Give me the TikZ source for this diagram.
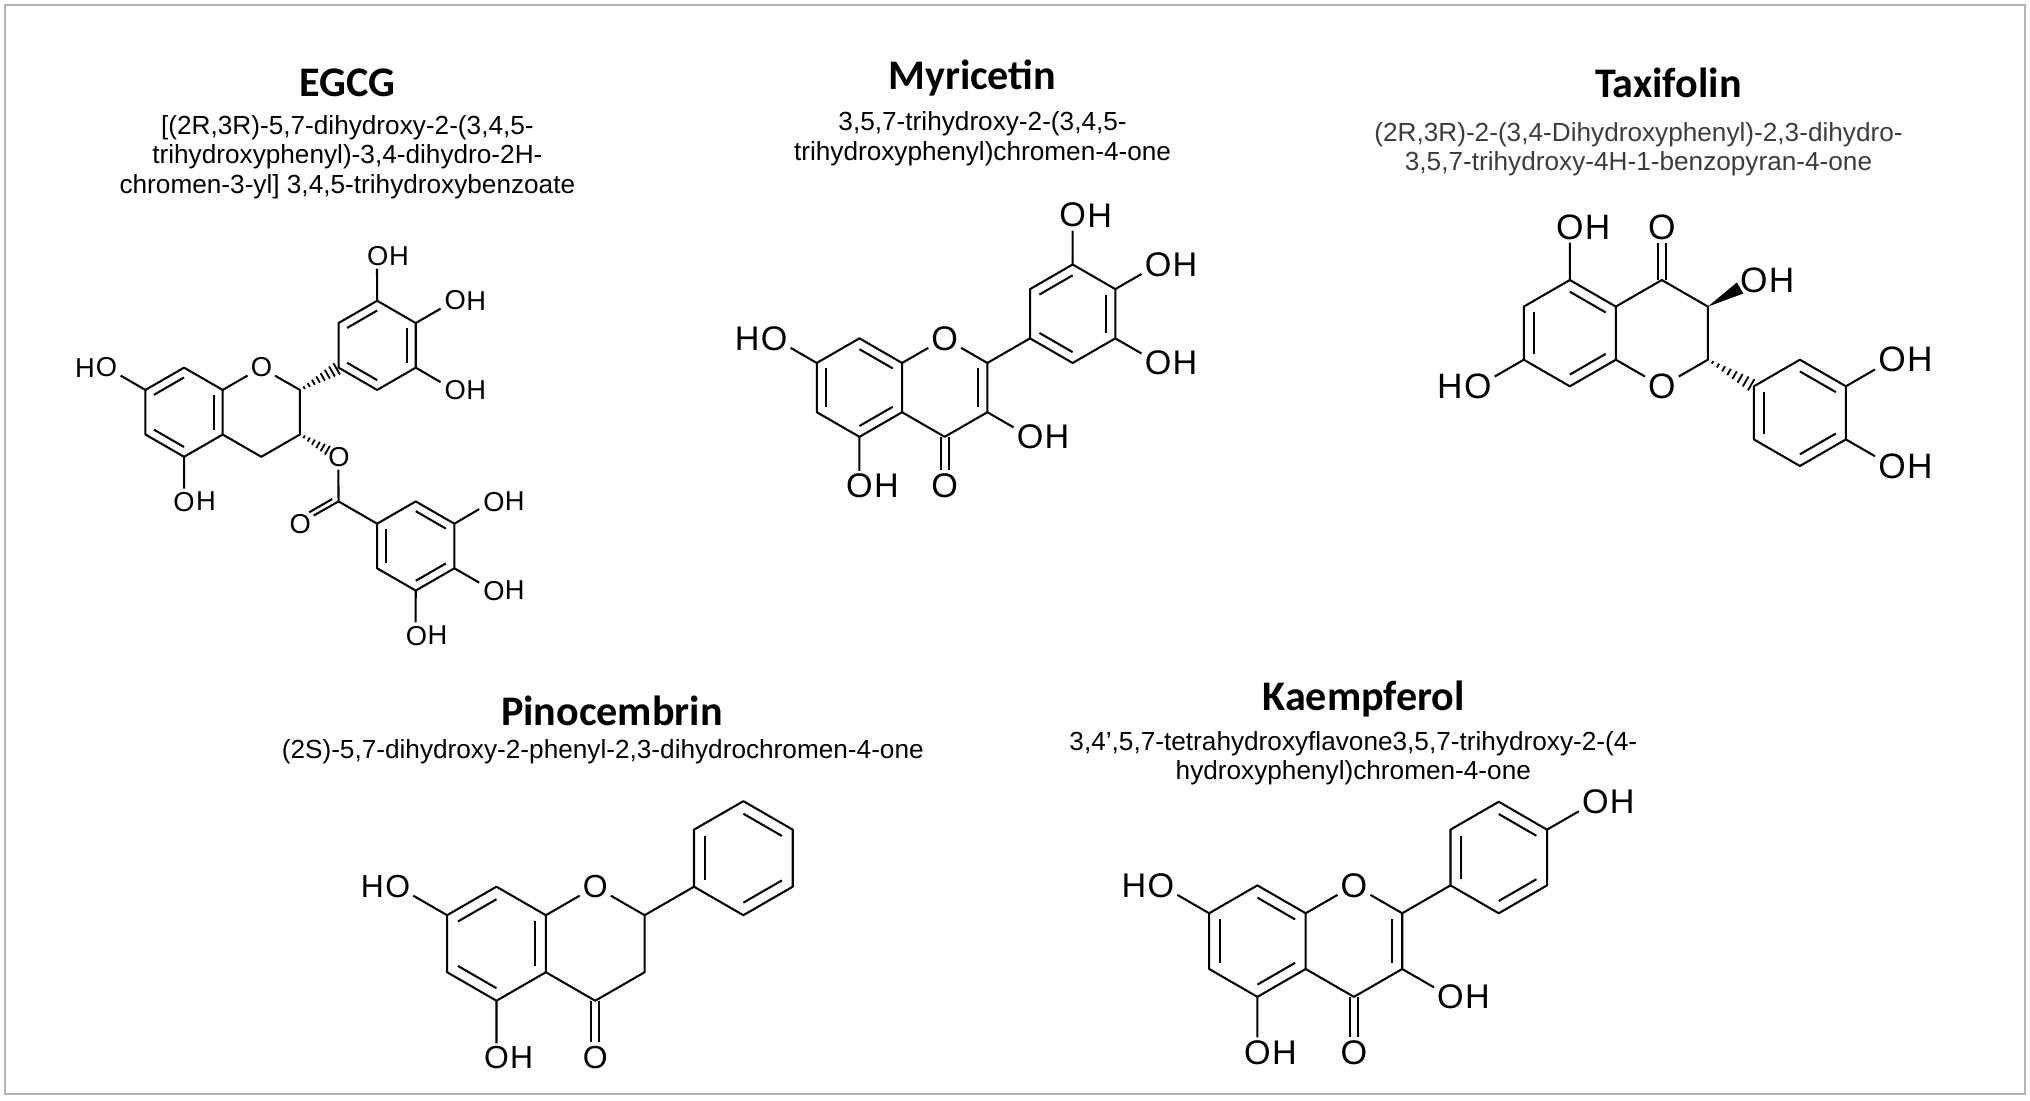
\documentclass[tikz,border=0pt]{standalone}
\usepackage{fontspec}
\setmainfont{Liberation Sans}
\newfontfamily\titlefont{Carlito}
\usetikzlibrary{calc}
\definecolor{nameGray}{RGB}{60,60,60}

\tikzset{
  bond/.style={line width=0.9pt, line join=round},
  atom/.style={inner sep=1.2pt},
  hyd/.style={atom, inner sep=0pt, label distance=-1pt},
  title/.style={font=\titlefont\bfseries\fontsize{18.5}{20}\selectfont},
  iupac/.style={align=center, font=\fontsize{11.5}{13}\selectfont},
}
% ring with named corners: name-30, name-90, ... name-330
\newcommand{\hexring}[2]{%
  \path (#2) coordinate (#1) +(30:1) coordinate (#1-30) +(90:1) coordinate (#1-90)
    +(150:1) coordinate (#1-150) +(210:1) coordinate (#1-210)
    +(270:1) coordinate (#1-270) +(330:1) coordinate (#1-330);
  \draw[bond] (#1-30) -- (#1-90) -- (#1-150) -- (#1-210) -- (#1-270) -- (#1-330) -- cycle;}
\newcommand{\dbl}[3]{\draw[bond] ($(#1)!0.78!(#2)$) -- ($(#1)!0.78!(#3)$);}
\newcommand{\kek}[7]{\dbl{#1}{#1-#2}{#1-#3}\dbl{#1}{#1-#4}{#1-#5}\dbl{#1}{#1-#6}{#1-#7}}
\newcommand{\hashed}[3]{%
  \foreach \t in {0.1,0.22,...,#3}{\pgfmathsetmacro\w{0.4+2.6*\t}
    \draw[reset cm, line width=0.8pt] ($(#1)!\t!(#2)!\w pt!90:(#2)$) -- ($(#1)!\t!(#2)!\w pt!-90:(#2)$);}}
\newcommand{\keto}[3]{% C, O, gap
  \draw[reset cm, bond, shorten >=#3] ($(#1)!1.8pt!90:(#2)$) -- ($(#2)!1.8pt!-90:(#1)$);
  \draw[reset cm, bond, shorten >=#3] ($(#1)!1.8pt!-90:(#2)$) -- ($(#2)!1.8pt!90:(#1)$);}

\begin{document}
\begin{tikzpicture}[x=0.02cm, y=0.02cm]
  \useasboundingbox (0,0) rectangle (1566,-849);
  \draw[gray!60, line width=1pt] (4,-4) rectangle (1562,-844);

  % names
  \node[title] (egcg) at (268,-64) {EGCG};
  \node[iupac] (egcg-name) at (268,-121) {[(2R,3R)-5,7-dihydroxy-2-(3,4,5-\\trihydroxyphenyl)-3,4-dihydro-2H-\\chromen-3-yl] 3,4,5-trihydroxybenzoate};
  \node[title] (myr) at (750,-60) {Myricetin};
  \node[iupac] (myr-name) at (758,-107) {3,5,7-trihydroxy-2-(3,4,5-\\trihydroxyphenyl)chromen-4-one};
  \node[title] (tax) at (1287,-64) {Taxifolin};
  \node[iupac, text=nameGray] (tax-name) at (1264,-115) {(2R,3R)-2-(3,4-Dihydroxyphenyl)-2,3-dihydro-\\3,5,7-trihydroxy-4H-1-benzopyran-4-one};
  \node[title] (pino) at (472,-548) {Pinocembrin};
  \node[iupac] (pino-name) at (465,-580) {(2S)-5,7-dihydroxy-2-phenyl-2,3-dihydrochromen-4-one};
  \node[title] (kae) at (1052,-539) {Kaempferol};
  \node[iupac] (kae-name) at (1044,-585) {3,4',5,7-tetrahydroxyflavone3,5,7-trihydroxy-2-(4-\\hydroxyphenyl)chromen-4-one};

  % EGCG
  \begin{scope}[shift={(142,-318)}, scale=34.5, atom/.append style={font=\fontsize{12}{13}\selectfont}]
    \hexring{e-A}{0,0}
    \kek{e-A}{90}{150}{210}{270}{330}{30}
    \node[atom] (e-O1) at (1.732,1) {O};
    \path (2.598,0.5) coordinate (e-C2) (2.598,-0.5) coordinate (e-C3) (1.732,-1) coordinate (e-C4);
    \draw[bond] (e-A-30) -- (e-O1) -- (e-C2) -- (e-C3) -- (e-C4) -- (e-A-330);
    \node[atom, label={[hyd]west:H}] (e-O7) at (-1.732,1) {O};
    \node[atom, label={[hyd]east:H}] (e-O5) at (0,-2) {O};
    \draw[bond] (e-A-150) -- (e-O7) (e-A-270) -- (e-O5);
    \hexring{e-B}{4.33,1.5}
    \kek{e-B}{150}{90}{30}{330}{270}{210}
    \hashed{e-C2}{e-B-210}{0.94}
    \node[atom, label={[hyd]east:H}] (e-O3p) at (4.33,3.5) {O};
    \node[atom, label={[hyd]east:H}] (e-O4p) at (6.062,2.5) {O};
    \node[atom, label={[hyd]east:H}] (e-O5p) at (6.062,0.5) {O};
    \draw[bond] (e-B-90) -- (e-O3p) (e-B-30) -- (e-O4p) (e-B-330) -- (e-O5p);
    \node[atom] (e-O3) at (3.464,-1) {O};
    \hashed{e-C3}{e-O3}{0.7}
    \coordinate (e-Cc) at (3.464,-2);
    \node[atom] (e-Oc) at (2.598,-2.5) {O};
    \hexring{e-D}{5.196,-3}
    \kek{e-D}{90}{30}{330}{270}{210}{150}
    \draw[bond] (e-O3) -- (e-Cc) -- (e-D-150) (e-Cc) -- (e-Oc);
    \draw[reset cm, bond, shorten >=6pt, shorten <=2pt] ($(e-Cc)!2.5pt!-90:(e-Oc)$) -- ($(e-Oc)!2.5pt!90:(e-Cc)$);
    \node[atom, label={[hyd]east:H}] (e-O3g) at (6.928,-2) {O};
    \node[atom, label={[hyd]east:H}] (e-O4g) at (6.928,-4) {O};
    \node[atom, label={[hyd]east:H}] (e-O5g) at (5.196,-5) {O};
    \draw[bond] (e-D-30) -- (e-O3g) (e-D-330) -- (e-O4g) (e-D-270) -- (e-O5g);
  \end{scope}

  % Myricetin
  \begin{scope}[shift={(663,-299)}, scale=38, atom/.append style={font=\fontsize{15}{16}\selectfont}]
    \hexring{m-A}{0,0}
    \kek{m-A}{150}{210}{270}{330}{30}{90}
    \node[atom] (m-O1) at (1.732,1) {O};
    \path (1.732,0) coordinate (m-C) (2.598,0.5) coordinate (m-C2) (2.598,-0.5) coordinate (m-C3) (1.732,-1) coordinate (m-C4);
    \draw[bond] (m-A-30) -- (m-O1) -- (m-C2) -- (m-C3) -- (m-C4) -- (m-A-330);
    \dbl{m-C}{m-C2}{m-C3}
    \node[atom] (m-O4) at (1.732,-2) {O};
    \keto{m-C4}{m-O4}{7pt}
    \node[atom, label={[hyd]east:H}] (m-O3) at (3.464,-1) {O};
    \node[atom, label={[hyd]west:H}] (m-O7) at (-1.732,1) {O};
    \node[atom, label={[hyd]east:H}] (m-O5) at (0,-2) {O};
    \draw[bond] (m-C3) -- (m-O3) (m-A-150) -- (m-O7) (m-A-270) -- (m-O5);
    \hexring{m-B}{4.33,1.5}
    \kek{m-B}{150}{90}{30}{330}{270}{210}
    \draw[bond] (m-C2) -- (m-B-210);
    \node[atom, label={[hyd]east:H}] (m-O3p) at (4.33,3.5) {O};
    \node[atom, label={[hyd]east:H}] (m-O4p) at (6.062,2.5) {O};
    \node[atom, label={[hyd]east:H}] (m-O5p) at (6.062,0.5) {O};
    \draw[bond] (m-B-90) -- (m-O3p) (m-B-30) -- (m-O4p) (m-B-330) -- (m-O5p);
  \end{scope}

  % Taxifolin
  \begin{scope}[shift={(1211,-257)}, scale=41, atom/.append style={font=\fontsize{15.5}{16}\selectfont}]
    \hexring{t-A}{0,0}
    \kek{t-A}{90}{30}{150}{210}{270}{330}
    \path (1.732,1) coordinate (t-C4) (2.598,0.5) coordinate (t-C3) (2.598,-0.5) coordinate (t-C2);
    \node[atom] (t-O1) at (1.732,-1) {O};
    \draw[bond] (t-A-30) -- (t-C4) -- (t-C3) -- (t-C2) -- (t-O1) -- (t-A-330);
    \node[atom] (t-O4) at (1.732,2) {O};
    \keto{t-C4}{t-O4}{7pt}
    \node[atom, label={[hyd]east:H}] (t-O3) at (3.464,1) {O};
    \coordinate (t-w) at ($(t-C3)!0.7!(t-O3)$);
    \fill[reset cm] (t-C3) -- ($(t-w)!2.8pt!90:(t-C3)$) -- ($(t-w)!2.8pt!-90:(t-C3)$) -- cycle;
    \node[atom, label={[hyd]east:H}] (t-O5) at (0,2) {O};
    \node[atom, label={[hyd]west:H}] (t-O7) at (-1.732,-1) {O};
    \draw[bond] (t-A-90) -- (t-O5) (t-A-210) -- (t-O7);
    \hexring{t-B}{4.33,-1.5}
    \kek{t-B}{90}{30}{150}{210}{270}{330}
    \hashed{t-C2}{t-B-150}{0.94}
    \node[atom, label={[hyd]east:H}] (t-O3p) at (6.062,-0.5) {O};
    \node[atom, label={[hyd]east:H}] (t-O4p) at (6.062,-2.5) {O};
    \draw[bond] (t-B-30) -- (t-O3p) (t-B-330) -- (t-O4p);
  \end{scope}

  % Pinocembrin
  \begin{scope}[shift={(383,-728)}, scale=44, atom/.append style={font=\fontsize{14}{15}\selectfont}]
    \hexring{p-A}{0,0}
    \kek{p-A}{150}{90}{30}{330}{210}{270}
    \node[atom] (p-O1) at (1.732,1) {O};
    \path (2.598,0.5) coordinate (p-C2) (2.598,-0.5) coordinate (p-C3) (1.732,-1) coordinate (p-C4);
    \draw[bond] (p-A-30) -- (p-O1) -- (p-C2) -- (p-C3) -- (p-C4) -- (p-A-330);
    \node[atom] (p-O4) at (1.732,-2) {O};
    \keto{p-C4}{p-O4}{7pt}
    \node[atom, label={[hyd]west:H}] (p-O7) at (-1.732,1) {O};
    \node[atom, label={[hyd]east:H}] (p-O5) at (0,-2) {O};
    \draw[bond] (p-A-150) -- (p-O7) (p-A-270) -- (p-O5);
    \hexring{p-B}{4.33,1.5}
    \kek{p-B}{150}{210}{90}{30}{270}{330}
    \draw[bond] (p-C2) -- (p-B-210);
  \end{scope}

  % Kaempferol
  \begin{scope}[shift={(970,-726)}, scale=43, atom/.append style={font=\fontsize{15}{16}\selectfont}]
    \hexring{k-A}{0,0}
    \kek{k-A}{150}{210}{270}{330}{30}{90}
    \node[atom] (k-O1) at (1.732,1) {O};
    \path (1.732,0) coordinate (k-C) (2.598,0.5) coordinate (k-C2) (2.598,-0.5) coordinate (k-C3) (1.732,-1) coordinate (k-C4);
    \draw[bond] (k-A-30) -- (k-O1) -- (k-C2) -- (k-C3) -- (k-C4) -- (k-A-330);
    \dbl{k-C}{k-C2}{k-C3}
    \node[atom] (k-O4) at (1.732,-2) {O};
    \keto{k-C4}{k-O4}{7pt}
    \node[atom, label={[hyd]east:H}] (k-O3) at (3.464,-1) {O};
    \node[atom, label={[hyd]west:H}] (k-O7) at (-1.732,1) {O};
    \node[atom, label={[hyd]east:H}] (k-O5) at (0,-2) {O};
    \draw[bond] (k-C3) -- (k-O3) (k-A-150) -- (k-O7) (k-A-270) -- (k-O5);
    \hexring{k-B}{4.33,1.5}
    \kek{k-B}{150}{210}{90}{30}{270}{330}
    \draw[bond] (k-C2) -- (k-B-210);
    \node[atom, label={[hyd]east:H}] (k-O4p) at (6.062,2.5) {O};
    \draw[bond] (k-B-30) -- (k-O4p);
  \end{scope}
\end{tikzpicture}
\end{document}
